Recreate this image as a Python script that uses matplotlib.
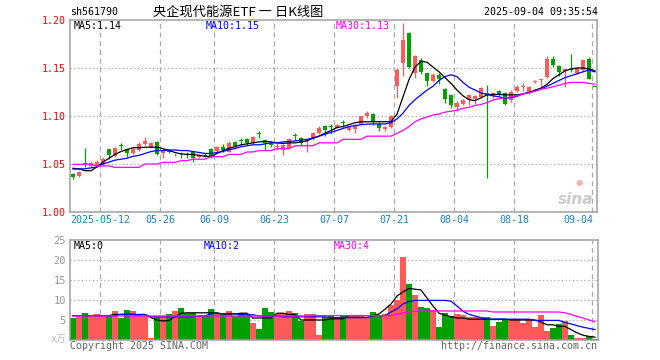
import matplotlib
matplotlib.use('Agg')
import matplotlib.pyplot as plt
import numpy as np

plt.rcParams['font.family'] = ['DejaVu Sans Mono', 'Noto Sans CJK SC']

# daily candles 2025-04-30 .. 2025-09-04 (88 trading days)
opens = [1.040, 1.037, 1.0505, 1.048, 1.048, 1.050, 1.066, 1.058, 1.0695, 1.066,
         1.061, 1.065, 1.071, 1.068, 1.073, 1.061, 1.064, 1.059, 1.0595, 1.060,
         1.063, 1.057, 1.059, 1.066, 1.064, 1.068, 1.063, 1.0725, 1.0745, 1.076,
         1.072, 1.0815, 1.075, 1.072, 1.068, 1.065, 1.067, 1.0795, 1.077, 1.074,
         1.076, 1.0826, 1.0896, 1.0895, 1.088, 1.094, 1.085, 1.086, 1.092, 1.0995,
         1.1018, 1.092, 1.086, 1.089, 1.131, 1.155, 1.186, 1.1445, 1.158, 1.1445,
         1.136, 1.143, 1.128, 1.122, 1.1097, 1.1125, 1.1167, 1.1175, 1.120, 1.1236,
         1.121, 1.126, 1.124, 1.1167, 1.126, 1.130, 1.124, 1.1355, 1.138, 1.141,
         1.159, 1.152, 1.147, 1.149, 1.145, 1.148, 1.159, 1.1305]
highs = [1.041, 1.043, 1.067, 1.052, 1.054, 1.057, 1.066, 1.068, 1.072, 1.067,
         1.068, 1.073, 1.078, 1.073, 1.074, 1.066, 1.066, 1.061, 1.063, 1.063,
         1.064, 1.060, 1.061, 1.067, 1.069, 1.071, 1.074, 1.074, 1.077, 1.077,
         1.079, 1.084, 1.076, 1.074, 1.072, 1.071, 1.077, 1.082, 1.078, 1.076,
         1.083, 1.090, 1.091, 1.092, 1.092, 1.096, 1.090, 1.092, 1.100, 1.105,
         1.103, 1.094, 1.090, 1.101, 1.150, 1.197, 1.188, 1.164, 1.160, 1.145,
         1.145, 1.145, 1.129, 1.123, 1.116, 1.118, 1.123, 1.122, 1.130, 1.132,
         1.125, 1.127, 1.125, 1.127, 1.132, 1.134, 1.131, 1.138, 1.139, 1.162,
         1.162, 1.153, 1.149, 1.165, 1.151, 1.159, 1.161, 1.1305]
lows = [1.034, 1.036, 1.047, 1.047, 1.047, 1.049, 1.055, 1.057, 1.065, 1.057,
        1.060, 1.064, 1.070, 1.067, 1.059, 1.056, 1.061, 1.058, 1.056, 1.056,
        1.052, 1.056, 1.057, 1.056, 1.063, 1.063, 1.062, 1.068, 1.070, 1.070,
        1.071, 1.077, 1.065, 1.068, 1.065, 1.059, 1.066, 1.075, 1.069, 1.062,
        1.075, 1.081, 1.079, 1.081, 1.087, 1.089, 1.084, 1.082, 1.091, 1.098,
        1.091, 1.084, 1.084, 1.087, 1.119, 1.142, 1.150, 1.140, 1.144, 1.131,
        1.135, 1.133, 1.114, 1.108, 1.105, 1.111, 1.1115, 1.112, 1.119, 1.0357,
        1.119, 1.121, 1.111, 1.115, 1.125, 1.126, 1.123, 1.134, 1.129, 1.140,
        1.151, 1.142, 1.1305, 1.146, 1.144, 1.147, 1.139, 1.130]
closes = [1.036, 1.042, 1.050, 1.051, 1.052, 1.055, 1.059, 1.067, 1.069, 1.061,
          1.066, 1.071, 1.074, 1.072, 1.060, 1.065, 1.062, 1.0595, 1.059, 1.059,
          1.056, 1.059, 1.0585, 1.058, 1.068, 1.065, 1.0715, 1.069, 1.074, 1.072,
          1.0785, 1.081, 1.0715, 1.070, 1.069, 1.070, 1.076, 1.079, 1.072, 1.075,
          1.082, 1.088, 1.085, 1.089, 1.091, 1.093, 1.089, 1.090, 1.0995, 1.103,
          1.0934, 1.087, 1.089, 1.100, 1.148, 1.179, 1.151, 1.1625, 1.146, 1.136,
          1.143, 1.139, 1.118, 1.1115, 1.114, 1.1167, 1.122, 1.121, 1.129, 1.122,
          1.124, 1.122, 1.113, 1.125, 1.130, 1.1305, 1.1305, 1.136, 1.139, 1.159,
          1.153, 1.146, 1.1485, 1.148, 1.150, 1.158, 1.139, 1.130]

ma5 = [1.0455, 1.045, 1.043, 1.043, 1.047, 1.052, 1.056, 1.060, 1.063, 1.065,
       1.067, 1.067, 1.0675, 1.0675, 1.0675, 1.066, 1.064, 1.062, 1.0605, 1.060,
       1.060, 1.059, 1.058, 1.058, 1.061, 1.064, 1.0665, 1.068, 1.070, 1.071,
       1.072, 1.073, 1.0735, 1.073, 1.072, 1.0715, 1.072, 1.072, 1.073, 1.074,
       1.077, 1.079, 1.082, 1.085, 1.088, 1.089, 1.091, 1.093, 1.094, 1.094,
       1.094, 1.094, 1.094, 1.094, 1.102, 1.120, 1.138, 1.151, 1.157, 1.156,
       1.151, 1.146, 1.140, 1.134, 1.127, 1.121, 1.117, 1.116, 1.119, 1.122,
       1.1225, 1.1225, 1.122, 1.122, 1.122, 1.123, 1.1245, 1.127, 1.129, 1.133,
       1.139, 1.143, 1.147, 1.149, 1.150, 1.150, 1.149, 1.147]
ma10 = [1.0448, 1.0448, 1.045, 1.046, 1.047, 1.050, 1.052, 1.054, 1.055, 1.056,
        1.058, 1.059, 1.061, 1.063, 1.064, 1.064, 1.0646, 1.0646, 1.064, 1.064,
        1.063, 1.062, 1.061, 1.061, 1.062, 1.063, 1.065, 1.066, 1.068, 1.069,
        1.070, 1.070, 1.071, 1.072, 1.072, 1.073, 1.0735, 1.074, 1.075, 1.0757,
        1.077, 1.079, 1.081, 1.083, 1.085, 1.087, 1.089, 1.090, 1.091, 1.0915,
        1.0917, 1.0917, 1.0917, 1.093, 1.097, 1.103, 1.111, 1.117, 1.122, 1.127,
        1.131, 1.137, 1.141, 1.143, 1.141, 1.135, 1.130, 1.127, 1.124, 1.1225,
        1.121, 1.120, 1.1185, 1.119, 1.1205, 1.123, 1.1245, 1.126, 1.128, 1.131,
        1.134, 1.137, 1.140, 1.142, 1.144, 1.146, 1.148, 1.146]
ma30 = [1.0497, 1.0497, 1.0497, 1.0497, 1.048, 1.048, 1.048, 1.0465, 1.0465, 1.0465,
        1.0465, 1.0465, 1.050, 1.050, 1.050, 1.0517, 1.0517, 1.0517, 1.0535, 1.0535,
        1.055, 1.055, 1.055, 1.0576, 1.0576, 1.0576, 1.060, 1.060, 1.060, 1.0625,
        1.0625, 1.064, 1.064, 1.064, 1.066, 1.066, 1.066, 1.069, 1.069, 1.069,
        1.069, 1.072, 1.072, 1.072, 1.072, 1.0757, 1.0757, 1.0757, 1.0757, 1.079,
        1.079, 1.079, 1.079, 1.079, 1.082, 1.085, 1.089, 1.094, 1.097, 1.099,
        1.101, 1.102, 1.104, 1.105, 1.106, 1.108, 1.109, 1.111, 1.112, 1.114,
        1.1167, 1.118, 1.119, 1.120, 1.121, 1.123, 1.124, 1.126, 1.128, 1.129,
        1.1305, 1.132, 1.134, 1.135, 1.135, 1.135, 1.134, 1.133]

# volume, 万
vols = [5.6, 5.8, 6.7, 6.0, 6.4, 6.0, 6.0, 7.25, 5.6, 7.5,
        7.25, 6.4, 6.0, 0.6, 5.8, 5.8, 6.4, 7.25, 8.1, 6.7,
        6.8, 6.0, 6.0, 7.7, 6.4, 6.4, 7.25, 6.0, 6.7, 6.4,
        4.2, 2.7, 8.1, 7.1, 6.4, 6.7, 7.25, 6.7, 4.75, 6.4,
        6.4, 1.25, 5.8, 6.25, 5.7, 6.25, 6.25, 6.25, 6.25, 5.8,
        7.1, 6.0, 6.4, 8.75, 10.0, 20.8, 14.0, 11.25, 8.3, 8.1,
        7.5, 3.3, 6.8, 6.1, 6.4, 6.25, 5.8, 5.8, 5.8, 5.7,
        3.5, 4.5, 5.3, 5.3, 5.3, 4.3, 5.3, 3.3, 6.25, 2.3,
        3.1, 3.9, 4.75, 1.25, 0.6, 0.6, 1.0, 0.3]
vol_ma5 = [6.1, 6.1, 6.1, 6.1, 6.1, 6.1, 6.1, 6.4, 6.4, 6.4,
           6.4, 6.3, 6.3, 5.6, 5.0, 4.75, 4.9, 5.8, 6.7, 6.8,
           6.8, 6.8, 6.8, 6.8, 6.8, 6.5, 6.5, 6.5, 6.7, 6.7,
           5.5, 5.5, 5.5, 5.5, 6.7, 6.7, 6.4, 6.4, 5.0, 5.0,
           5.0, 5.0, 5.0, 5.3, 5.3, 5.3, 6.1, 6.1, 6.1, 6.1,
           6.1, 6.5, 7.7, 9.0, 11.0, 12.0, 12.9, 12.7, 12.5, 10.5,
           8.5, 6.7, 6.2, 5.8, 5.5, 5.5, 5.2, 5.2, 5.2, 5.2,
           5.2, 5.2, 5.2, 5.0, 5.0, 5.0, 5.0, 5.0, 4.5, 3.8,
           3.8, 3.4, 3.4, 2.6, 1.8, 1.2, 0.9, 0.7]
vol_ma10 = [6.1, 6.1, 6.1, 6.1, 6.1, 6.1, 6.1, 6.1, 6.4, 6.4,
            6.4, 6.4, 6.4, 5.8, 5.8, 5.8, 5.8, 5.8, 5.8, 5.8,
            5.8, 6.0, 6.0, 6.6, 6.6, 6.6, 6.6, 6.6, 6.3, 6.3,
            6.3, 6.0, 6.0, 6.0, 6.0, 5.8, 5.8, 5.8, 5.8, 5.8,
            5.8, 5.8, 5.8, 5.6, 5.6, 5.6, 5.6, 5.6, 5.6, 5.6,
            6.1, 6.1, 6.1, 7.0, 7.8, 9.0, 9.6, 9.9, 9.9, 9.9,
            9.9, 9.9, 9.9, 9.7, 8.5, 7.2, 6.4, 6.0, 5.6, 5.2,
            5.2, 5.2, 5.2, 5.2, 5.2, 5.2, 5.2, 4.9, 4.9, 4.9,
            4.9, 4.9, 4.4, 4.0, 3.6, 3.2, 2.9, 2.6]
vol_ma30 = [6.0, 6.0, 6.0, 6.0, 6.0, 6.0, 6.0, 6.0, 6.0, 6.0,
            6.0, 6.0, 6.0, 6.0, 6.0, 6.0, 6.0, 6.0, 6.0, 6.0,
            6.0, 6.0, 6.0, 6.0, 6.0, 6.0, 6.0, 6.0, 6.0, 6.0,
            6.0, 6.0, 6.0, 6.0, 6.0, 6.0, 6.0, 6.0, 6.0, 6.0,
            6.1, 6.1, 6.1, 6.1, 6.1, 6.1, 6.1, 6.1, 6.1, 6.1,
            6.1, 6.1, 6.1, 6.1, 6.4, 6.8, 7.0, 7.2, 7.25, 7.25,
            7.25, 7.25, 7.25, 7.25, 7.25, 7.25, 7.25, 7.25, 7.25, 7.25,
            7.0, 7.0, 7.0, 7.0, 7.0, 7.0, 7.0, 7.0, 7.0, 7.0,
            7.0, 7.0, 6.8, 6.4, 5.9, 5.5, 5.0, 4.6]

tick_idx = [5, 15, 24, 34, 44, 54, 64, 74, 87]
tick_lbl = ['2025-05-12', '05-26', '06-09', '06-23', '07-07', '07-21', '08-04', '08-18', '09-04']
price_ticks = [1.00, 1.05, 1.10, 1.15, 1.20]
vol_ticks = [5, 10, 15, 20, 25]

RED = '#ff5a5a'
GREEN = '#00a000'
GRID = '#aaaaaa'
W, H = 660, 360

fig = plt.figure(figsize=(6.6, 3.6), dpi=100)
ax = fig.add_axes([70 / W, 1 - 212 / H, 527 / W, 192 / H])
axv = fig.add_axes([70 / W, 1 - 340 / H, 528 / W, 100 / H])

o, h, l, c = map(np.array, (opens, highs, lows, closes))
x = np.arange(len(c))
cols = np.where(c >= o, RED, GREEN)

for a in (ax, axv):
    for t in tick_idx:
        a.axvline(t - 0.5, color=GRID, lw=0.9, ls=(0, (4, 3)), zorder=0)
    for s in a.spines.values():
        s.set_color('#a0a0a0')
        s.set_linewidth(1.1)
    a.set_xlim(-0.5, 87.5)
    a.set_xticks([])
    a.tick_params(axis='y', length=0, pad=3, labelsize=7.2)

# candles
ax.vlines(x, l, h, colors=cols, lw=0.9, zorder=2)
ax.bar(x, np.maximum(np.abs(c - o), 0.0008), bottom=np.minimum(o, c), width=0.8,
       color=cols, lw=0, zorder=3)
ax.plot(x, ma5, color='black', lw=0.9, zorder=4)
ax.plot(x, ma10, color='blue', lw=0.9, zorder=4)
ax.plot(x, ma30, color='magenta', lw=0.9, zorder=4)
for p in price_ticks[1:-1]:
    ax.axhline(p, color=GRID, lw=0.9, ls=(0, (1, 2)), zorder=0)
ax.set_xlim(-0.5, 87.33)
ax.set_ylim(1.00, 1.20)
ax.set_yticks(price_ticks)
ax.set_yticklabels(['%.2f' % p for p in price_ticks], color='red')

for t, s in zip(tick_idx, tick_lbl):
    if t == tick_idx[-1]:
        ax.text(t - 0.3, -0.042, s, transform=ax.get_xaxis_transform(), ha='right',
                va='center', fontsize=7.2, color='#1e7fd0')
    else:
        ax.text(t - 0.5, -0.042, s, transform=ax.get_xaxis_transform(), ha='center',
                va='center', fontsize=7.2, color='#1e7fd0')

# volume
axv.bar(x, vols, width=0.85, color=cols, lw=0, zorder=2)
axv.plot(x, vol_ma5, color='black', lw=0.9, zorder=3)
axv.plot(x, vol_ma10, color='blue', lw=0.9, zorder=3)
axv.plot(x, vol_ma30, color='magenta', lw=0.9, zorder=3)
for v in vol_ticks[:-1]:
    axv.axhline(v, color=GRID, lw=0.9, ls=(0, (1, 2)), zorder=0)
axv.set_ylim(0, 25)
axv.set_yticks(vol_ticks)
axv.set_yticklabels([str(v) for v in vol_ticks], color='#999999', fontsize=7.5)


def ftext(px, py, s, **kw):
    kw.setdefault('fontsize', 7.2)
    kw.setdefault('va', 'center')
    fig.text(px / W, 1 - py / H, s, **kw)


ftext(70, 12, 'sh561790')
ftext(238, 12, '央企现代能源ETF 一 日K线图', ha='center', fontsize=9.5,
      family=['Noto Sans CJK SC', 'DejaVu Sans'])
ftext(598, 12, '2025-09-04 09:35:54', ha='right')
ftext(74, 26, 'MA5:1.14', color='black')
ftext(206, 26, 'MA10:1.15', color='blue')
ftext(336, 26, 'MA30:1.13', color='magenta')
ftext(74, 246, 'MA5:0', color='black')
ftext(204, 246, 'MA10:2', color='blue')
ftext(334, 246, 'MA30:4', color='magenta')
ftext(66, 339, 'x万', ha='right', color='#bbbbbb', fontsize=7)
ftext(70, 346, 'Copyright 2025 SINA.COM', color='#666666')
ftext(597, 346, 'http://finance.sina.com.cn', ha='right', color='#666666')
# watermark
ftext(576, 200, 'sina', ha='center', fontsize=11, style='italic', weight='bold',
      color='#cccccc', family='DejaVu Sans')
ftext(579, 183, '●', ha='center', fontsize=6, color='#f4b0b0', family='DejaVu Sans')

fig.savefig('out.png', dpi=100)
